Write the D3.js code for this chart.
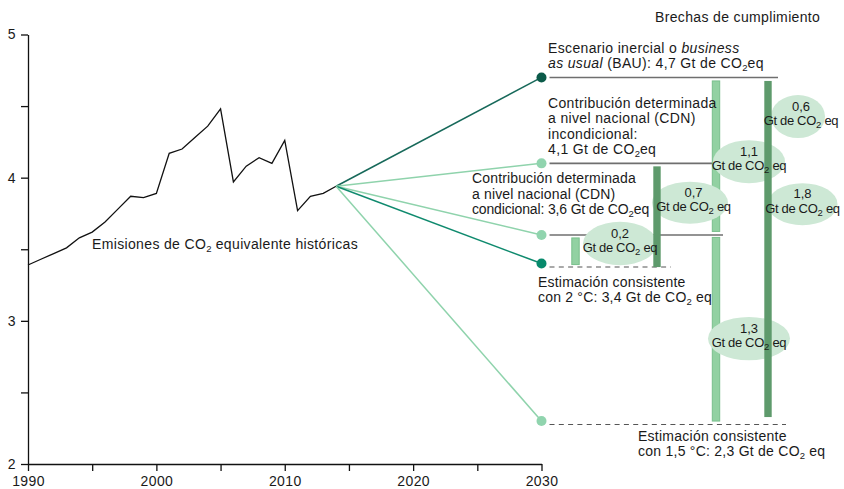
<!DOCTYPE html>
<html><head><meta charset="utf-8">
<script src="https://cdn.jsdelivr.net/npm/d3@7"></script>
<style>
body{margin:0;background:#fff;}
svg{display:block;font-family:"Liberation Sans",Arial,sans-serif;}
</style></head>
<body><svg id="c" width="844" height="489"></svg>
<script>
// ---- data ----
const years = [1990,1991,1992,1993,1994,1995,1996,1997,1998,1999,2000,2001,2002,2003,2004,2005,2006,2007,2008,2009,2010,2011,2012,2013,2014];
const emissions = [3.39,3.43,3.47,3.51,3.58,3.62,3.69,3.78,3.87,3.86,3.89,4.17,4.20,4.28,4.36,4.48,3.97,4.08,4.14,4.10,4.26,3.77,3.87,3.89,3.94];
const targetYear = 2030;
const scenarioKeys = ["bau","cdnInc","cdnCond","deg2","deg15"];
const scenario2030 = [4.7, 4.1, 3.6, 3.4, 2.3];
const gapFrom = [3.6, 4.1, 4.7, 3.6, 4.7];
const gapTo   = [3.4, 3.4, 3.6, 2.3, 2.3];
const gapLabels = ["0,2","0,7","1,1","0,6","1,8","1,3"];
const xTickValues = [1990,1995,2000,2005,2010,2015,2020,2025,2030];
const xTickLabels = [1990,2000,2010,2020,2030];
const yTickValues = [2,2.5,3,3.5,4,4.5,5];
const yTickLabels = [2,3,4,5];

// ---- layout ----
const svg = d3.select("#c");
const x = d3.scaleLinear().domain([1990,2030]).range([28,541.5]);
const y = d3.scaleLinear().domain([2,5]).range([464,34.5]);
const X30 = x(targetYear);
const FONT = 14;
const LS = 0.35;
const textCol = "#1a1a1a";

const lineCol = {bau:"#17695a", cdnInc:"#8fd3ac", cdnCond:"#8fd3ac", deg2:"#0f8a6e", deg15:"#8fd3ac"};
const dotCol  = {bau:"#0b5a49", cdnInc:"#90d4ae", cdnCond:"#90d4ae", deg2:"#078a6c", deg15:"#90d4ae"};
const refLine = {
  bau:{x2:778, dash:false, dy:0},
  cdnInc:{x2:745, dash:false, dy:0},
  cdnCond:{x2:723, dash:false, dy:0},
  deg2:{x2:671, dash:true, dy:3.5},
  deg15:{x2:786, dash:true, dy:3.5}
};
const barLayout = [
  {dx:34, dark:false, pt:3, pb:-1},
  {dx:115.5, dark:true, pt:3, pb:-3.5},
  {dx:174.5, dark:false, pt:3.5, pb:3.5},
  {dx:174.5, dark:false, pt:2.5, pb:0},
  {dx:226.5, dark:true, pt:3.5, pb:4}
];
const ellLayout = [
  {dx:78.5, v:3.540, rx:37, ry:21.7, tdx:0},
  {dx:148.5, v:3.825, rx:38, ry:21, tdx:3.5},
  {dx:207.5, v:4.112, rx:36, ry:21.5, tdx:0},
  {dx:256.5, v:4.427, rx:27, ry:21.5, tdx:3},
  {dx:261, v:3.815, rx:35, ry:21, tdx:0},
  {dx:207.5, v:2.876, rx:41, ry:21.7, tdx:0}
];

function rich(sel, parts){
  let pendingUp = false;
  parts.forEach(p=>{
    if(p.sub){
      sel.append("tspan").attr("font-size",9.5).attr("dy",3).attr("letter-spacing",0).text(p.t);
      pendingUp = true;
    } else {
      const t = sel.append("tspan").text(p.t);
      if(pendingUp){ t.attr("dy",-3); pendingUp=false; }
      if(p.i) t.attr("font-style","italic");
    }
  });
}
function label(xp, yp, lines, ls){
  lines.forEach((parts,k)=>{
    const l = ls==null ? LS : (Array.isArray(ls) ? ls[k] : ls);
    const t = svg.append("text").attr("x",xp).attr("y",yp[k]).attr("font-size",FONT)
      .attr("letter-spacing",l).attr("fill",textCol);
    rich(t, parts);
  });
}

// ---- axes ----
const yAxis = d3.axisLeft(y).tickValues(yTickValues).tickSize(7).tickSizeOuter(0).tickPadding(5)
  .tickFormat(d => yTickLabels.includes(d) ? d : "");
const gy = svg.append("g").attr("transform",`translate(${x(1990)},0)`).call(yAxis);
const xAxis = d3.axisBottom(x).tickValues(xTickValues).tickSize(7).tickSizeOuter(0).tickPadding(5)
  .tickFormat(d => xTickLabels.includes(d) ? d : "");
const gx = svg.append("g").attr("transform",`translate(0,${y(2)})`).call(xAxis);
[gx,gy].forEach(g=>{
  g.selectAll("path,line").attr("stroke","#111").attr("stroke-width",1.3);
  g.selectAll("text").attr("font-size",FONT).attr("letter-spacing",LS).attr("fill",textCol)
    .attr("font-family","Liberation Sans, Arial, sans-serif");
});

// ---- historical line ----
svg.append("path").datum(years.map((yr,i)=>[yr,emissions[i]]))
  .attr("fill","none").attr("stroke","#111").attr("stroke-width",1.3).attr("stroke-linejoin","miter")
  .attr("d", d3.line().x(d=>x(d[0])).y(d=>y(d[1])));

// ---- reference horizontal lines ----
scenarioKeys.forEach((k,i)=>{
  const r = refLine[k];
  const l = svg.append("line").attr("x1",X30+8).attr("x2",r.x2)
    .attr("y1",y(scenario2030[i])+r.dy).attr("y2",y(scenario2030[i])+r.dy)
    .attr("stroke", r.dash ? "#555" : "#6f6f6f").attr("stroke-width", r.dash?1.1:1.6);
  if(r.dash) l.attr("stroke-dasharray","5,4.3");
});

// ---- gap bars ----
const bars = gapFrom.map((f,i)=>({from:f,to:gapTo[i],...barLayout[i]}));
function drawBars(dark){
  bars.filter(b=>b.dark===dark).forEach(b=>{
    svg.append("rect").attr("x",X30+b.dx-3.7).attr("width",7.4)
      .attr("y",y(b.from)+b.pt).attr("height",y(b.to)-y(b.from)-b.pt-b.pb)
      .attr("fill", dark ? "#5e9a6c" : "#92d1a2")
      .attr("stroke", dark ? "none" : "#79bf8c").attr("stroke-width",1);
  });
}
drawBars(false);

// ---- ellipses ----
const ells = gapLabels.map((l,i)=>({label:l,...ellLayout[i]}));
ells.forEach(e=>{
  svg.append("ellipse").attr("cx",X30+e.dx).attr("cy",y(e.v)).attr("rx",e.rx).attr("ry",e.ry)
    .attr("fill","#cde8d5");
});
drawBars(true);
ells.forEach(e=>{
  const cx = X30+e.dx+e.tdx, cy = y(e.v);
  svg.append("text").attr("x",cx).attr("y",cy-6).attr("text-anchor","middle").attr("font-size",13)
    .attr("fill",textCol).text(e.label);
  const t = svg.append("text").attr("x",cx).attr("y",cy+8.5).attr("text-anchor","middle")
    .attr("font-size",13).attr("fill",textCol).attr("letter-spacing",-0.35);
  rich(t,[{t:"Gt de CO"},{t:"2",sub:true},{t:" eq"}]);
});

// ---- projection lines and dots ----
const lastYear = years[years.length-1], lastVal = emissions[emissions.length-1];
scenarioKeys.forEach((k,i)=>{
  svg.append("line").attr("x1",x(lastYear)).attr("y1",y(lastVal))
    .attr("x2",X30).attr("y2",y(scenario2030[i]))
    .attr("stroke",lineCol[k]).attr("stroke-width",1.5);
});
scenarioKeys.forEach((k,i)=>{
  svg.append("circle").attr("cx",X30).attr("cy",y(scenario2030[i])).attr("r",5)
    .attr("fill",dotCol[k]);
});

// ---- labels ----
svg.append("text").attr("x",655).attr("y",22).attr("font-size",FONT).attr("letter-spacing",LS)
  .attr("fill",textCol).text("Brechas de cumplimiento");
label(548,[53,68],[
  [{t:"Escenario inercial o "},{t:"business",i:true}],
  [{t:"as usual",i:true},{t:" (BAU): 4,7 Gt de CO"},{t:"2",sub:true},{t:"eq"}]
]);
label(548,[107.5,123,138.5,154],[
  [{t:"Contribución determinada"}],
  [{t:"a nivel nacional (CDN)"}],
  [{t:"incondicional:"}],
  [{t:"4,1 Gt de CO"},{t:"2",sub:true},{t:"eq"}]
]);
label(472,[183,198.5,214],[
  [{t:"Contribución determinada"}],
  [{t:"a nivel nacional (CDN)"}],
  [{t:"condicional: 3,6 Gt de CO"},{t:"2",sub:true},{t:"eq"}]
], [0.15,0.15,-0.15]);
label(538,[287,302],[
  [{t:"Estimación consistente"}],
  [{t:"con 2 °C: 3,4 Gt de CO"},{t:"2",sub:true},{t:" eq"}]
], 0.2);
label(638,[440.5,456],[
  [{t:"Estimación consistente"}],
  [{t:"con 1,5 °C: 2,3 Gt de CO"},{t:"2",sub:true},{t:" eq"}]
], 0.25);
label(92,[249],[
  [{t:"Emisiones de CO"},{t:"2",sub:true},{t:" equivalente históricas"}]
]);
</script></body></html>
